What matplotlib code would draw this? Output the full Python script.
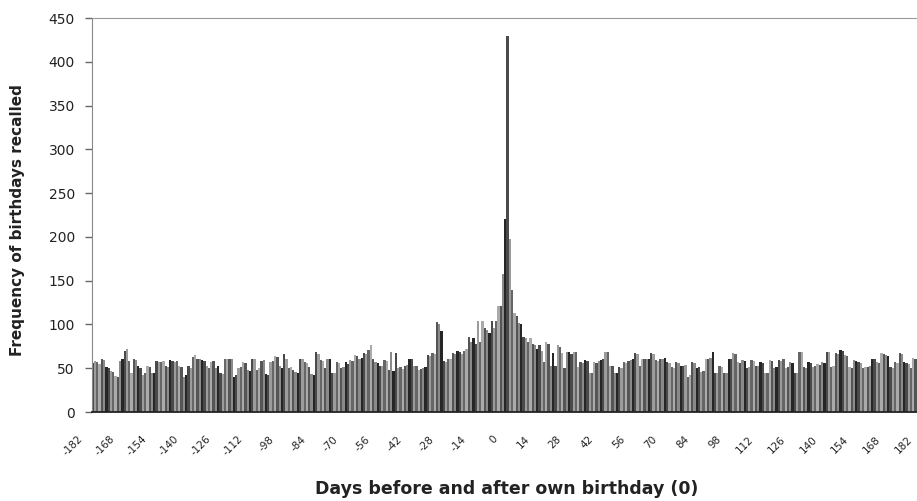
"""
Birthday recall histogram: frequency of recalled birthdays by days
before/after the respondent's own birthday.
"""

import matplotlib
matplotlib.use('Agg')
import matplotlib.pyplot as plt
from matplotlib.transforms import ScaledTranslation

plt.rcParams['font.family'] = ['DejaVu Sans']

# --- Data (day -182 .. +182) ---
FIRST_DAY = -182

counts_far_before = [
    56, 58, 57, 55, 60, 59, 51, 50, 47, 46, 41, 40,
    58, 61, 70, 72, 58, 44, 61, 59, 52, 50, 42, 44,
    53, 51, 44, 45, 58, 57, 57, 58, 52, 51, 59, 58,
    57, 58, 52, 51, 40, 42, 52, 50, 63, 65, 61, 60,
    59, 58, 52, 50, 57, 58, 50, 52, 44, 43, 61, 60,
    60, 61, 40, 42, 50, 51, 57, 56, 48, 47, 61, 60,
    48, 50, 58, 59, 43, 42, 57, 58, 64, 63, 52, 50,
    66, 61, 50, 51, 48, 46, 45, 61,
]
counts_near_before = [
    61, 57, 56, 51, 43, 42, 69, 66, 59, 58,
    50, 61, 60, 44, 45, 57, 56, 50, 51, 57,
    55, 59, 58, 65, 64, 61, 62, 67, 66, 71,
    76, 60, 57, 56, 53, 52, 59, 58, 48, 69,
    47, 67, 50, 51, 49, 53, 54, 61, 60, 53,
    52, 48, 49, 50, 51, 65, 64, 67, 66, 103,
    100, 93, 58, 57, 61, 60, 67, 66, 70,
]
counts_around = [
    68, 66, 70, 72, 86, 80, 84, 78, 104, 80,
    104, 96, 94, 90, 104, 96, 104, 121, 121, 158,
    221, 430, 198, 139, 113, 110, 102, 100, 86, 84,
    80, 84, 78, 76, 72, 76, 70, 57, 80, 78,
    53, 67,
]
counts_near_after = [
    53, 76, 74, 67, 50, 69, 68, 66, 69, 68,
    51, 57, 56, 59, 58, 44, 45, 57, 56, 58,
    59, 60, 69, 68, 53, 52, 44, 45, 51, 50,
    57, 56, 58, 59, 60, 67, 66, 53, 61, 60,
    61, 60, 67, 66, 59, 58, 61, 60, 62, 57,
    56, 51, 50, 57, 56, 53, 52, 54, 40, 42,
    57, 56, 50, 51, 46, 47, 61, 60, 62, 69,
    44, 45, 53,
]
counts_far_after = [
    51, 44, 45, 61, 60, 67, 66, 57, 56, 59,
    58, 50, 51, 59, 58, 53, 52, 57, 56, 44,
    45, 59, 58, 50, 51, 59, 58, 61, 50, 51,
    57, 56, 44, 45, 69, 68, 51, 50, 57, 56,
    51, 52, 55, 54, 57, 56, 69, 68, 51, 52,
    67, 66, 71, 70, 65, 64, 51, 50, 59, 58,
    57, 56, 50, 51, 51, 52, 61, 60, 57, 56,
    67, 66, 65, 64, 51, 50, 57, 56, 67, 66,
    57, 56, 55, 50, 62, 60, 48, 56, 52,
]

counts = (counts_far_before + counts_near_before + counts_around
          + counts_near_after + counts_far_after)
days = list(range(FIRST_DAY, FIRST_DAY + len(counts)))

tick_days = list(range(-182, 183, 14))
y_ticks = list(range(0, 451, 50))

# --- Style ---
BAR_SHADES = ['#4a4a4a', '#9c9c9c', '#666666', '#aaaaaa',
              '#555555', '#8a8a8a', '#262626']
TEXT = '#222222'

W, H = 917, 501
fig = plt.figure(figsize=(W / 100, H / 100), dpi=100, facecolor='white')
ax = fig.add_axes([91.6 / W, (H - 412) / H, 832 / W, 394 / H])

colors = [BAR_SHADES[i % len(BAR_SHADES)] for i in range(len(counts))]
ax.bar(days, counts, width=1.0, color=colors, linewidth=0)

ax.set_xlim(-182.5, 182.5)
ax.set_ylim(0, 450)

ax.set_yticks(y_ticks)
ax.set_yticklabels([str(v) for v in y_ticks])
ax.tick_params(axis='y', direction='out', length=5, width=1, color='#666666',
               labelsize=10, labelcolor=TEXT, pad=7)

ax.set_xticks(tick_days)
ax.set_xticklabels([str(d) for d in tick_days], rotation=45, ha='right',
                   rotation_mode='anchor', fontsize=7.5, color=TEXT)
ax.tick_params(axis='x', length=0, pad=0)
shift = ScaledTranslation(-15 / 100, -22 / 100, fig.dpi_scale_trans)
for lbl in ax.get_xticklabels():
    lbl.set_transform(lbl.get_transform() + shift)

ax.spines['left'].set_color('#888888')
ax.spines['top'].set_color('#999999')
ax.spines['bottom'].set_color('#222222')
ax.spines['bottom'].set_linewidth(1.3)
ax.spines['right'].set_visible(False)

fig.text(507 / W, 1 - 489 / H, 'Days before and after own birthday (0)',
         ha='center', va='center', fontsize=12.5, fontweight='bold', color=TEXT)
fig.text(18 / W, 1 - 220 / H, 'Frequency of birthdays recalled',
         ha='center', va='center', rotation=90, fontsize=11,
         fontweight='bold', color=TEXT)

fig.savefig('out.png', dpi=100, facecolor='white')
plt.close(fig)
